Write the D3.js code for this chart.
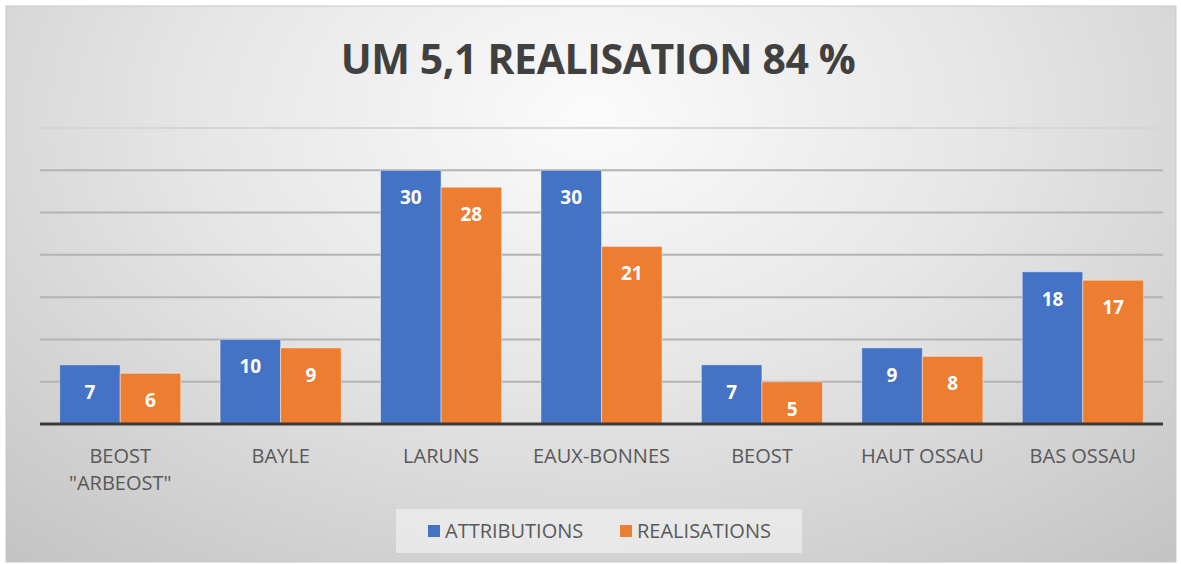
<!DOCTYPE html>
<html>
<head>
<meta charset="utf-8">
<script src="https://cdn.jsdelivr.net/npm/d3@7"></script>
<style>
  body { margin: 0; background: #fff; }
  svg { display: block; font-family: "Open Sans", "Noto Sans", sans-serif; }
</style>
</head>
<body>
<div class="chart"></div>
<script>
const title = "UM 5,1 REALISATION 84 %";
const categories = ["BEOST\n\"ARBEOST\"", "BAYLE", "LARUNS", "EAUX-BONNES", "BEOST", "HAUT OSSAU", "BAS OSSAU"];
const seriesNames = ["ATTRIBUTIONS", "REALISATIONS"];
const attributions = [7, 10, 30, 30, 7, 9, 18];
const realisations = [6, 9, 28, 21, 5, 8, 17];
const gridTicks = [5, 10, 15, 20, 25, 30, 35];

const colors = ["#4472C4", "#ED7D31"];
const w = 1181, h = 564;

const svg = d3.select(".chart").append("svg")
    .attr("width", w)
    .attr("height", h);

// background gradient like the office chart style
const defs = svg.append("defs");
const grad = defs.append("radialGradient")
    .attr("id", "bg")
    .attr("cx", "50%").attr("cy", "20%")
    .attr("r", "75%")
    .attr("gradientTransform", "translate(0.5,0.2) scale(1,1.4) translate(-0.5,-0.2)");
grad.append("stop").attr("offset", "0%").attr("stop-color", "#fbfbfb");
grad.append("stop").attr("offset", "45%").attr("stop-color", "#e6e6e6");
grad.append("stop").attr("offset", "100%").attr("stop-color", "#c4c4c4");

svg.append("rect")
    .attr("x", 6).attr("y", 6)
    .attr("width", 1170).attr("height", 556)
    .attr("fill", "url(#bg)")
    .attr("stroke", "#c8c8c8");

const plotL = 40, plotR = 1163, plotT = 128, plotB = 424;

const x0 = d3.scaleBand()
    .domain(categories)
    .range([plotL, plotR])
    .paddingInner(0.245)
    .paddingOuter(0.1225);

const x1 = d3.scaleBand()
    .domain(seriesNames)
    .range([0, x0.bandwidth()]);

const y = d3.scaleLinear()
    .domain([0, 35])
    .range([plotB, plotT]);

// gridlines
svg.append("g")
    .selectAll("line")
    .data(gridTicks)
    .join("line")
    .attr("x1", plotL).attr("x2", plotR)
    .attr("y1", d => y(d)).attr("y2", d => y(d))
    .attr("stroke", (d, i) => i === gridTicks.length - 1 ? "#d6d6d6" : "#b3b3b3")
    .attr("stroke-width", 2);

const rows = categories.map((c, i) => ({
    cat: c,
    vals: [attributions[i], realisations[i]]
}));

const groups = svg.append("g")
    .selectAll("g")
    .data(rows)
    .join("g")
    .attr("transform", d => `translate(${x0(d.cat)},0)`);

groups.selectAll("rect")
    .data(d => d.vals.map((v, j) => ({ name: seriesNames[j], v: v, j: j })))
    .join("rect")
    .attr("x", d => x1(d.name))
    .attr("y", d => y(d.v))
    .attr("width", x1.bandwidth())
    .attr("height", d => y(0) - y(d.v))
    .attr("fill", d => colors[d.j])
    .attr("stroke", "rgba(255,255,255,0.45)")
    .attr("stroke-width", 1);

groups.selectAll("text")
    .data(d => d.vals.map((v, j) => ({ name: seriesNames[j], v: v })))
    .join("text")
    .attr("x", d => x1(d.name) + x1.bandwidth() / 2)
    .attr("y", d => y(d.v) + 34)
    .attr("text-anchor", "middle")
    .attr("fill", "#fff")
    .attr("font-weight", "bold")
    .attr("font-size", 19)
    .text(d => d.v);

// baseline axis
const xAxis = d3.axisBottom(x0).tickSize(0).tickPadding(25);
const axisG = svg.append("g")
    .attr("transform", `translate(0,${plotB})`)
    .call(xAxis);
axisG.select(".domain")
    .attr("d", `M${plotL},0H${plotR}`)
    .attr("stroke", "#3a3a3a")
    .attr("stroke-width", 3);
axisG.selectAll(".tick text")
    .attr("fill", "#595959")
    .attr("font-size", 20)
    .attr("font-family", "\"Open Sans\", sans-serif")
    .each(function(d) {
        const parts = d.split("\n");
        const t = d3.select(this).text(null);
        parts.forEach((p, k) => {
            t.append("tspan")
                .attr("x", 0)
                .attr("dy", k === 0 ? "0.71em" : "1.35em")
                .text(p);
        });
    });

// title
svg.append("text")
    .attr("x", 598)
    .attr("y", 74)
    .attr("text-anchor", "middle")
    .attr("font-size", 41)
    .attr("font-weight", "bold")
    .attr("fill", "#404040")
    .attr("letter-spacing", -0.4)
    .text(title);

// legend
const legend = svg.append("g");
legend.append("rect")
    .attr("x", 396).attr("y", 509)
    .attr("width", 406).attr("height", 44)
    .attr("fill", "#ececec")
    .attr("opacity", 0.8);
const legendX = [428, 620];
seriesNames.forEach((s, i) => {
    legend.append("rect")
        .attr("x", legendX[i]).attr("y", 525)
        .attr("width", 12).attr("height", 12)
        .attr("fill", colors[i]);
    legend.append("text")
        .attr("x", legendX[i] + 17)
        .attr("y", 538)
        .attr("font-size", 20)
        .attr("fill", "#595959")
        .text(s);
});
</script>
</body>
</html>
